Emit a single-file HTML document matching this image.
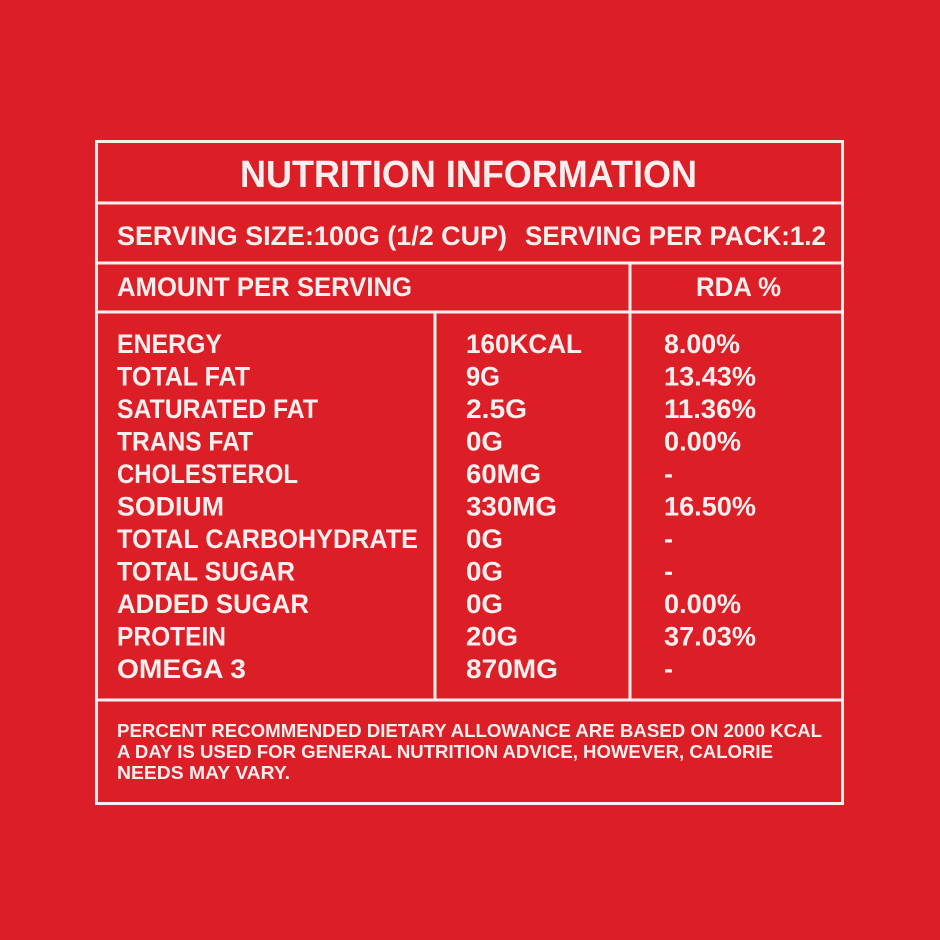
<!DOCTYPE html>
<html><head><style>
html,body{margin:0;padding:0;background:#dc1f26;}
svg{display:block}
text{font-family:"Liberation Sans",sans-serif;font-weight:bold;fill:#fbeeee;}
</style></head><body>
<svg width="940" height="940" viewBox="0 0 940 940" xmlns="http://www.w3.org/2000/svg">
<rect width="940" height="940" fill="#dc1f26"/>
<g stroke="#fbeeee" stroke-width="3" fill="none">
<rect x="96.5" y="141.5" width="746" height="662"/>
<line x1="96" y1="203" x2="843" y2="203"/>
<line x1="96" y1="263" x2="843" y2="263"/>
<line x1="96" y1="312" x2="843" y2="312"/>
<line x1="96" y1="700" x2="843" y2="700"/>
<line x1="435" y1="312" x2="435" y2="700"/>
<line x1="630" y1="263" x2="630" y2="700"/>
</g>
<g lengthAdjust="spacingAndGlyphs">
<text x="240" y="187" font-size="38" textLength="457" lengthAdjust="spacingAndGlyphs">NUTRITION INFORMATION</text>
<text x="117" y="245" font-size="27" textLength="390" lengthAdjust="spacingAndGlyphs">SERVING SIZE:100G (1/2 CUP)</text>
<text x="525" y="245" font-size="27" textLength="301" lengthAdjust="spacingAndGlyphs">SERVING PER PACK:1.2</text>
<text x="117" y="296" font-size="27" textLength="295" lengthAdjust="spacingAndGlyphs">AMOUNT PER SERVING</text>
<text x="696" y="296" font-size="27" textLength="85" lengthAdjust="spacingAndGlyphs">RDA %</text>
</g>
<g font-size="27">
<text x="117" y="353" textLength="105" lengthAdjust="spacingAndGlyphs">ENERGY</text>
<text x="117" y="385.5" textLength="133" lengthAdjust="spacingAndGlyphs">TOTAL FAT</text>
<text x="117" y="418" textLength="201" lengthAdjust="spacingAndGlyphs">SATURATED FAT</text>
<text x="117" y="450.5" textLength="136" lengthAdjust="spacingAndGlyphs">TRANS FAT</text>
<text x="117" y="483" textLength="181" lengthAdjust="spacingAndGlyphs">CHOLESTEROL</text>
<text x="117" y="515.5" textLength="107" lengthAdjust="spacingAndGlyphs">SODIUM</text>
<text x="117" y="548" textLength="301" lengthAdjust="spacingAndGlyphs">TOTAL CARBOHYDRATE</text>
<text x="117" y="580.5" textLength="178" lengthAdjust="spacingAndGlyphs">TOTAL SUGAR</text>
<text x="117" y="613" textLength="192" lengthAdjust="spacingAndGlyphs">ADDED SUGAR</text>
<text x="117" y="645.5" textLength="109" lengthAdjust="spacingAndGlyphs">PROTEIN</text>
<text x="117" y="678" textLength="129" lengthAdjust="spacingAndGlyphs">OMEGA 3</text>

<text x="466" y="353" textLength="116" lengthAdjust="spacingAndGlyphs">160KCAL</text>
<text x="466" y="385.5" textLength="34" lengthAdjust="spacingAndGlyphs">9G</text>
<text x="466" y="418" textLength="61" lengthAdjust="spacingAndGlyphs">2.5G</text>
<text x="466" y="450.5" textLength="37" lengthAdjust="spacingAndGlyphs">0G</text>
<text x="466" y="483" textLength="75" lengthAdjust="spacingAndGlyphs">60MG</text>
<text x="466" y="515.5" textLength="91" lengthAdjust="spacingAndGlyphs">330MG</text>
<text x="466" y="548" textLength="37" lengthAdjust="spacingAndGlyphs">0G</text>
<text x="466" y="580.5" textLength="37" lengthAdjust="spacingAndGlyphs">0G</text>
<text x="466" y="613" textLength="37" lengthAdjust="spacingAndGlyphs">0G</text>
<text x="466" y="645.5" textLength="52" lengthAdjust="spacingAndGlyphs">20G</text>
<text x="466" y="678" textLength="92" lengthAdjust="spacingAndGlyphs">870MG</text>

<text x="664" y="353" textLength="76" lengthAdjust="spacingAndGlyphs">8.00%</text>
<text x="664" y="385.5" textLength="92" lengthAdjust="spacingAndGlyphs">13.43%</text>
<text x="664" y="418" textLength="92" lengthAdjust="spacingAndGlyphs">11.36%</text>
<text x="664" y="450.5" textLength="77" lengthAdjust="spacingAndGlyphs">0.00%</text>
<text x="664" y="483">-</text>
<text x="664" y="515.5" textLength="92" lengthAdjust="spacingAndGlyphs">16.50%</text>
<text x="664" y="548">-</text>
<text x="664" y="580.5">-</text>
<text x="664" y="613" textLength="77" lengthAdjust="spacingAndGlyphs">0.00%</text>
<text x="664" y="645.5" textLength="92" lengthAdjust="spacingAndGlyphs">37.03%</text>
<text x="664" y="678">-</text>
</g>
<g font-size="18">
<text x="117" y="737" textLength="705" lengthAdjust="spacingAndGlyphs">PERCENT RECOMMENDED DIETARY ALLOWANCE ARE BASED ON 2000 KCAL</text>
<text x="117" y="758" textLength="656" lengthAdjust="spacingAndGlyphs">A DAY IS USED FOR GENERAL NUTRITION ADVICE, HOWEVER, CALORIE</text>
<text x="117" y="779" textLength="173" lengthAdjust="spacingAndGlyphs">NEEDS MAY VARY.</text>
</g>
</svg>
</body></html>
